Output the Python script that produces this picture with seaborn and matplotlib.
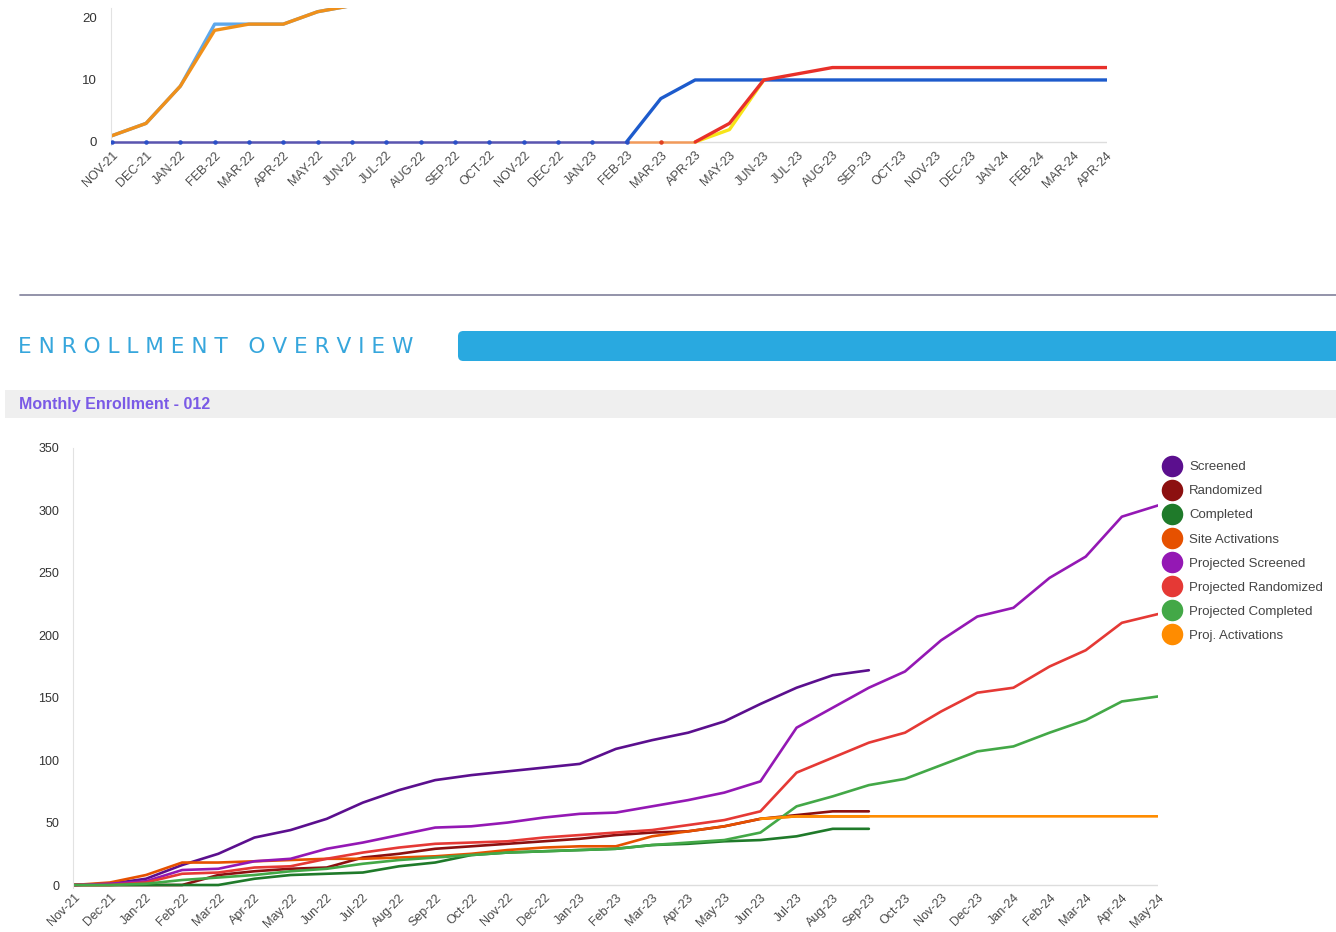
import numpy as np
import pandas as pd
import matplotlib
matplotlib.use('Agg')
import matplotlib.pyplot as plt
import seaborn as sns
from matplotlib.patches import FancyBboxPatch, Rectangle
from matplotlib.lines import Line2D

# ---- top chart data (cumulative activations, partially cut off at the top) ----
top_months = ['NOV-21', 'DEC-21', 'JAN-22', 'FEB-22', 'MAR-22', 'APR-22', 'MAY-22', 'JUN-22',
              'JUL-22', 'AUG-22', 'SEP-22', 'OCT-22', 'NOV-22', 'DEC-22', 'JAN-23', 'FEB-23',
              'MAR-23', 'APR-23', 'MAY-23', 'JUN-23', 'JUL-23', 'AUG-23', 'SEP-23', 'OCT-23',
              'NOV-23', 'DEC-23', 'JAN-24', 'FEB-24', 'MAR-24', 'APR-24']
nan = np.nan
top_lightblue = [1, 3, 9, 19, 19, 19, 21, 22, 24] + [nan] * 21
top_orange = [1, 3, 9, 18, 19, 19, 21, 22, 24] + [nan] * 21
top_indigo = [0] * 16 + [nan] * 14
top_blue = [nan] * 15 + [0, 7, 10, 10, 10, 10, 10, 10, 10, 10, 10, 10, 10, 10, 10]
top_paleorange = [nan] * 15 + [0, 0, 0] + [nan] * 12
top_yellow = [nan] * 17 + [0, 2, 10] + [nan] * 10
top_red = [nan] * 17 + [0, 3, 10, 11, 12, 12, 12, 12, 12, 12, 12, 12, 12]

# ---- bottom chart data ----
months = ['Nov-21', 'Dec-21', 'Jan-22', 'Feb-22', 'Mar-22', 'Apr-22', 'May-22', 'Jun-22',
          'Jul-22', 'Aug-22', 'Sep-22', 'Oct-22', 'Nov-22', 'Dec-22', 'Jan-23', 'Feb-23',
          'Mar-23', 'Apr-23', 'May-23', 'Jun-23', 'Jul-23', 'Aug-23', 'Sep-23', 'Oct-23',
          'Nov-23', 'Dec-23', 'Jan-24', 'Feb-24', 'Mar-24', 'Apr-24', 'May-24']
screened = [0, 1, 5, 16, 25, 38, 44, 53, 66, 76, 84, 88, 91, 94, 97, 109, 116, 122, 131, 145,
            158, 168, 172] + [nan] * 8
randomized = [0, 0, 0, 0, 8, 11, 13, 14, 22, 25, 29, 31, 33, 35, 37, 40, 42, 43, 47, 53,
              56, 59, 59] + [nan] * 8
completed = [0, 0, 0, 0, 0, 5, 8, 9, 10, 15, 18, 24, 26, 27, 28, 29, 32, 33, 35, 36,
             39, 45, 45] + [nan] * 8
site_activations = [0, 2, 8, 18, 18, 19, 20, 21, 21, 22, 23, 25, 28, 30, 31, 31, 39, 43,
                    47, 53, 55, 55, 55] + [nan] * 8
proj_screened = [0, 1, 3, 12, 13, 19, 21, 29, 34, 40, 46, 47, 50, 54, 57, 58, 63, 68, 74,
                 83, 126, 142, 158, 171, 196, 215, 222, 246, 263, 295, 304]
proj_randomized = [0, 0, 2, 9, 10, 14, 15, 21, 26, 30, 33, 34, 35, 38, 40, 42, 44, 48, 52,
                   59, 90, 102, 114, 122, 139, 154, 158, 175, 188, 210, 217]
proj_completed = [0, 0, 1, 4, 6, 8, 11, 13, 17, 20, 22, 24, 26, 27, 28, 29, 32, 34, 36,
                  42, 63, 71, 80, 85, 96, 107, 111, 122, 132, 147, 151]
proj_activations = [nan] * 19 + [53, 55, 55, 55, 55, 55, 55, 55, 55, 55, 55, 55]

series_names = ['Screened', 'Randomized', 'Completed', 'Site Activations', 'Projected Screened',
                'Projected Randomized', 'Projected Completed', 'Proj. Activations']
series_colors = ['#5b0f8e', '#8c1010', '#1f7a2a', '#e65100', '#9418b4', '#e53935',
                 '#43a847', '#ff8c00']

sns.set_style('white')
plt.rcParams['font.family'] = ['Liberation Sans', 'DejaVu Sans']

fig = plt.figure(figsize=(13.36, 9.32), dpi=100)
W, H = 1336, 932


def fig_rect(x0, y0, x1, y1):
    # pixel box (top-left origin) -> figure fraction rect
    return [x0 / W, 1 - y1 / H, (x1 - x0) / W, (y1 - y0) / H]


# ================= top chart =================
ax1 = fig.add_axes(fig_rect(111, 8, 1107, 145.1))
top_series = [('a', top_lightblue, '#5ea8ec', 2.4), ('b', top_orange, '#f0901a', 2.4),
              ('c', top_indigo, '#5a55b0', 1.8), ('d', top_paleorange, '#f29a5a', 1.8),
              ('e', top_blue, '#1d5bcc', 2.4), ('f', top_yellow, '#f7e418', 2.4),
              ('g', top_red, '#e8302a', 2.4)]
for name, vals, col, lw in top_series:
    d = pd.DataFrame({'x': np.arange(len(top_months)), 'y': vals}).dropna()
    sns.lineplot(data=d, x='x', y='y', ax=ax1, color=col, linewidth=lw)
# small dot markers along the zero line
d = pd.DataFrame({'x': np.arange(len(top_months)), 'y': top_indigo}).dropna()
ax1.scatter(d['x'], d['y'], s=5, color='#2a50c8', zorder=5)
ax1.scatter([16], [0], s=5, color='#e04020', zorder=5)
ax1.axhline(0, color='#dddddd', lw=1, zorder=0)
ax1.set_ylim(-0.5, 21.6)
ax1.set_yticks([0, 10, 20])
ax1.set_xticks(np.arange(len(top_months)))
ax1.set_xticklabels(top_months, rotation=45, ha='right', rotation_mode='anchor',
                    fontsize=9, color='#4a4a4a')
ax1.tick_params(axis='y', labelsize=9.5, colors='#333333', length=0, pad=10)
ax1.tick_params(axis='x', length=0, pad=3)
ax1.set_xlabel('')
ax1.set_ylabel('')
for s in ['top', 'right', 'bottom']:
    ax1.spines[s].set_visible(False)
ax1.spines['left'].set_color('#e2e2e2')
ax1.set_xlim(-0.02, len(top_months) - 1)

# ================= section header =================
fig.add_artist(Line2D([20 / W, 1], [1 - 295 / H, 1 - 295 / H], color='#8a8aa2', lw=1.3))
fig.text(18 / W, 1 - 347 / H, ' '.join('ENROLLMENT') + '   ' + ' '.join('OVERVIEW'),
         fontsize=15.6, color='#36a6dc', va='center', ha='left', family='DejaVu Sans')
fig.add_artist(FancyBboxPatch((462 / W, 1 - 357 / H), 900 / W, 22 / H,
                              boxstyle='round,pad=0.003,rounding_size=0.004',
                              transform=fig.transFigure, facecolor='#29a9e0',
                              edgecolor='none', mutation_aspect=W / H))
fig.add_artist(Rectangle((5 / W, 1 - 418 / H), 1331 / W, 28 / H, transform=fig.transFigure,
                         facecolor='#efefef', edgecolor='none'))
fig.text(19 / W, 1 - 404 / H, 'Monthly Enrollment - 012', fontsize=11.5, fontweight='bold',
         color='#7a5ae6', va='center', ha='left')

# ================= bottom chart =================
ax2 = fig.add_axes(fig_rect(73, 448, 1158, 887.5))
rows = []
for name, vals in zip(series_names, [screened, randomized, completed, site_activations,
                                     proj_screened, proj_randomized, proj_completed,
                                     proj_activations]):
    for i, v in enumerate(vals):
        rows.append({'month': i, 'value': v, 'series': name})
df = pd.DataFrame(rows).dropna()
sns.lineplot(data=df, x='month', y='value', hue='series', hue_order=series_names,
             palette=series_colors, linewidth=1.9, ax=ax2, legend=False)
ax2.axhline(0, color='#dddddd', lw=1, zorder=0)
ax2.set_ylim(-2, 350)
ax2.set_yticks(np.arange(0, 351, 50))
ax2.set_xticks(np.arange(len(months)))
ax2.set_xticklabels(months, rotation=45, ha='right', rotation_mode='anchor',
                    fontsize=9, color='#4a4a4a')
ax2.tick_params(axis='y', labelsize=9, colors='#333333', length=0, pad=10)
ax2.tick_params(axis='x', length=0, pad=3)
ax2.set_xlabel('')
ax2.set_ylabel('')
for s in ['top', 'right', 'bottom']:
    ax2.spines[s].set_visible(False)
ax2.spines['left'].set_color('#e2e2e2')
ax2.set_xlim(-0.02, len(months) - 1)

handles = [Line2D([], [], marker='o', linestyle='', markersize=15.5, color=c, markeredgewidth=0)
           for c in series_colors]
leg = fig.legend(handles, series_names, loc='upper left', bbox_to_anchor=(1161 / W, 1 - 461 / H),
                 frameon=False, fontsize=9.5, labelspacing=0.9, handletextpad=0.55,
                 handlelength=1.6, borderaxespad=0, borderpad=0)
for t in leg.get_texts():
    t.set_color('#444444')

fig.savefig('out.png', dpi=100)
